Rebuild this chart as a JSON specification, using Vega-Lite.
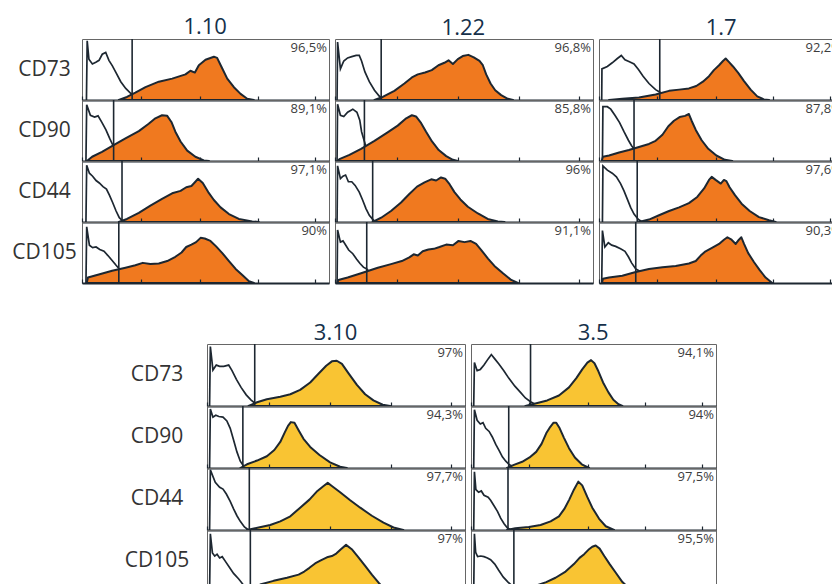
{
  "$schema": "https://vega.github.io/schema/vega-lite/v6.json",
  "padding": {"left": 12, "top": 15, "right": 0, "bottom": 0},
  "config": {
    "font": "Open Sans",
    "view": {"stroke": "#666666", "strokeWidth": 1},
    "title": {"font": "Open Sans", "fontSize": 22, "fontWeight": "normal", "color": "#15304a", "anchor": "middle", "offset": -2, "baseline": "alphabetic"}
  },
  "data": {"values": [
    {"s":"1.10","m":"CD73","k":"i","x":1.8,"y":0},{"s":"1.10","m":"CD73","k":"i","x":2.1,"y":97},{"s":"1.10","m":"CD73","k":"i","x":2.8,"y":67},{"s":"1.10","m":"CD73","k":"i","x":4.2,"y":59},{"s":"1.10","m":"CD73","k":"i","x":5.6,"y":62},{"s":"1.10","m":"CD73","k":"i","x":6.9,"y":65},{"s":"1.10","m":"CD73","k":"i","x":8.2,"y":75},{"s":"1.10","m":"CD73","k":"i","x":9.6,"y":78},{"s":"1.10","m":"CD73","k":"i","x":10.9,"y":65},{"s":"1.10","m":"CD73","k":"i","x":12.3,"y":56},{"s":"1.10","m":"CD73","k":"i","x":13.6,"y":46},{"s":"1.10","m":"CD73","k":"i","x":15.7,"y":30},{"s":"1.10","m":"CD73","k":"i","x":17.7,"y":19},{"s":"1.10","m":"CD73","k":"i","x":19.7,"y":11},{"s":"1.10","m":"CD73","k":"i","x":23,"y":3},{"s":"1.10","m":"CD73","k":"i","x":27,"y":0},
    {"s":"1.10","m":"CD73","k":"p","x":14.9,"y":0},{"s":"1.10","m":"CD73","k":"p","x":18.2,"y":5},{"s":"1.10","m":"CD73","k":"p","x":21.6,"y":12},{"s":"1.10","m":"CD73","k":"p","x":25.7,"y":21},{"s":"1.10","m":"CD73","k":"p","x":31.1,"y":30},{"s":"1.10","m":"CD73","k":"p","x":36.5,"y":35},{"s":"1.10","m":"CD73","k":"p","x":41.9,"y":42},{"s":"1.10","m":"CD73","k":"p","x":43.9,"y":48},{"s":"1.10","m":"CD73","k":"p","x":45.7,"y":45},{"s":"1.10","m":"CD73","k":"p","x":47.3,"y":57},{"s":"1.10","m":"CD73","k":"p","x":50,"y":66},{"s":"1.10","m":"CD73","k":"p","x":53.4,"y":71},{"s":"1.10","m":"CD73","k":"p","x":54.7,"y":69},{"s":"1.10","m":"CD73","k":"p","x":56.5,"y":54},{"s":"1.10","m":"CD73","k":"p","x":58.8,"y":35},{"s":"1.10","m":"CD73","k":"p","x":61.5,"y":21},{"s":"1.10","m":"CD73","k":"p","x":64.2,"y":10},{"s":"1.10","m":"CD73","k":"p","x":66.9,"y":2},{"s":"1.10","m":"CD73","k":"p","x":69.6,"y":0},
    {"s":"1.10","m":"CD73","k":"g","x":20.3},{"s":"1.10","m":"CD73","k":"t","t":"96,5%"},

    {"s":"1.10","m":"CD90","k":"i","x":1.6,"y":0},{"s":"1.10","m":"CD90","k":"i","x":1.9,"y":92},{"s":"1.10","m":"CD90","k":"i","x":3.4,"y":75},{"s":"1.10","m":"CD90","k":"i","x":5.1,"y":72},{"s":"1.10","m":"CD90","k":"i","x":6.5,"y":74},{"s":"1.10","m":"CD90","k":"i","x":8.1,"y":63},{"s":"1.10","m":"CD90","k":"i","x":9.7,"y":51},{"s":"1.10","m":"CD90","k":"i","x":11.2,"y":37},{"s":"1.10","m":"CD90","k":"i","x":12.6,"y":25},{"s":"1.10","m":"CD90","k":"i","x":14.2,"y":10},{"s":"1.10","m":"CD90","k":"i","x":16.2,"y":2},{"s":"1.10","m":"CD90","k":"i","x":20,"y":0},
    {"s":"1.10","m":"CD90","k":"p","x":2,"y":0},{"s":"1.10","m":"CD90","k":"p","x":4.1,"y":7},{"s":"1.10","m":"CD90","k":"p","x":8.1,"y":15},{"s":"1.10","m":"CD90","k":"p","x":12.8,"y":26},{"s":"1.10","m":"CD90","k":"p","x":17.6,"y":37},{"s":"1.10","m":"CD90","k":"p","x":23,"y":49},{"s":"1.10","m":"CD90","k":"p","x":27,"y":61},{"s":"1.10","m":"CD90","k":"p","x":29.7,"y":70},{"s":"1.10","m":"CD90","k":"p","x":32.4,"y":75},{"s":"1.10","m":"CD90","k":"p","x":34.5,"y":74},{"s":"1.10","m":"CD90","k":"p","x":36.2,"y":64},{"s":"1.10","m":"CD90","k":"p","x":37.8,"y":48},{"s":"1.10","m":"CD90","k":"p","x":39.9,"y":32},{"s":"1.10","m":"CD90","k":"p","x":42.6,"y":17},{"s":"1.10","m":"CD90","k":"p","x":45.9,"y":7},{"s":"1.10","m":"CD90","k":"p","x":49.3,"y":1},{"s":"1.10","m":"CD90","k":"p","x":51.4,"y":0},
    {"s":"1.10","m":"CD90","k":"g","x":12.8},{"s":"1.10","m":"CD90","k":"t","t":"89,1%"},

    {"s":"1.10","m":"CD44","k":"i","x":1.6,"y":0},{"s":"1.10","m":"CD44","k":"i","x":1.9,"y":93},{"s":"1.10","m":"CD44","k":"i","x":3,"y":80},{"s":"1.10","m":"CD44","k":"i","x":4.3,"y":75},{"s":"1.10","m":"CD44","k":"i","x":5.7,"y":68},{"s":"1.10","m":"CD44","k":"i","x":7,"y":64},{"s":"1.10","m":"CD44","k":"i","x":8.5,"y":58},{"s":"1.10","m":"CD44","k":"i","x":9.9,"y":54},{"s":"1.10","m":"CD44","k":"i","x":11.1,"y":44},{"s":"1.10","m":"CD44","k":"i","x":12.4,"y":32},{"s":"1.10","m":"CD44","k":"i","x":13.8,"y":18},{"s":"1.10","m":"CD44","k":"i","x":15.1,"y":7},{"s":"1.10","m":"CD44","k":"i","x":16.9,"y":0},
    {"s":"1.10","m":"CD44","k":"p","x":14.9,"y":0},{"s":"1.10","m":"CD44","k":"p","x":18.2,"y":5},{"s":"1.10","m":"CD44","k":"p","x":23,"y":15},{"s":"1.10","m":"CD44","k":"p","x":27.7,"y":27},{"s":"1.10","m":"CD44","k":"p","x":32.4,"y":38},{"s":"1.10","m":"CD44","k":"p","x":36.5,"y":47},{"s":"1.10","m":"CD44","k":"p","x":39.9,"y":51},{"s":"1.10","m":"CD44","k":"p","x":42.2,"y":57},{"s":"1.10","m":"CD44","k":"p","x":44.3,"y":59},{"s":"1.10","m":"CD44","k":"p","x":45.9,"y":66},{"s":"1.10","m":"CD44","k":"p","x":47,"y":71},{"s":"1.10","m":"CD44","k":"p","x":48.9,"y":64},{"s":"1.10","m":"CD44","k":"p","x":51.1,"y":49},{"s":"1.10","m":"CD44","k":"p","x":53.4,"y":36},{"s":"1.10","m":"CD44","k":"p","x":56.1,"y":24},{"s":"1.10","m":"CD44","k":"p","x":59.5,"y":13},{"s":"1.10","m":"CD44","k":"p","x":63.5,"y":5},{"s":"1.10","m":"CD44","k":"p","x":68.9,"y":1},{"s":"1.10","m":"CD44","k":"p","x":71.6,"y":0},
    {"s":"1.10","m":"CD44","k":"g","x":16.2},{"s":"1.10","m":"CD44","k":"t","t":"97,1%"},

    {"s":"1.10","m":"CD105","k":"i","x":1.6,"y":0},{"s":"1.10","m":"CD105","k":"i","x":1.9,"y":92},{"s":"1.10","m":"CD105","k":"i","x":3,"y":62},{"s":"1.10","m":"CD105","k":"i","x":4.3,"y":58},{"s":"1.10","m":"CD105","k":"i","x":5.7,"y":59},{"s":"1.10","m":"CD105","k":"i","x":7.2,"y":55},{"s":"1.10","m":"CD105","k":"i","x":8.9,"y":52},{"s":"1.10","m":"CD105","k":"i","x":10.5,"y":45},{"s":"1.10","m":"CD105","k":"i","x":12.2,"y":37},{"s":"1.10","m":"CD105","k":"i","x":13.8,"y":29},{"s":"1.10","m":"CD105","k":"i","x":15.1,"y":23},{"s":"1.10","m":"CD105","k":"i","x":17.6,"y":13},{"s":"1.10","m":"CD105","k":"i","x":20.3,"y":2},{"s":"1.10","m":"CD105","k":"i","x":21.6,"y":0},
    {"s":"1.10","m":"CD105","k":"p","x":1.9,"y":0},{"s":"1.10","m":"CD105","k":"p","x":2.4,"y":9},{"s":"1.10","m":"CD105","k":"p","x":6.8,"y":14},{"s":"1.10","m":"CD105","k":"p","x":12.2,"y":20},{"s":"1.10","m":"CD105","k":"p","x":17.6,"y":25},{"s":"1.10","m":"CD105","k":"p","x":21.6,"y":29},{"s":"1.10","m":"CD105","k":"p","x":24.6,"y":33},{"s":"1.10","m":"CD105","k":"p","x":27.7,"y":31},{"s":"1.10","m":"CD105","k":"p","x":31.1,"y":32},{"s":"1.10","m":"CD105","k":"p","x":34.5,"y":36},{"s":"1.10","m":"CD105","k":"p","x":37.8,"y":43},{"s":"1.10","m":"CD105","k":"p","x":40.3,"y":50},{"s":"1.10","m":"CD105","k":"p","x":42.2,"y":59},{"s":"1.10","m":"CD105","k":"p","x":44.3,"y":63},{"s":"1.10","m":"CD105","k":"p","x":46.2,"y":67},{"s":"1.10","m":"CD105","k":"p","x":48,"y":74},{"s":"1.10","m":"CD105","k":"p","x":49.7,"y":73},{"s":"1.10","m":"CD105","k":"p","x":52,"y":69},{"s":"1.10","m":"CD105","k":"p","x":54.3,"y":60},{"s":"1.10","m":"CD105","k":"p","x":56.8,"y":49},{"s":"1.10","m":"CD105","k":"p","x":59.5,"y":36},{"s":"1.10","m":"CD105","k":"p","x":62.2,"y":23},{"s":"1.10","m":"CD105","k":"p","x":64.9,"y":13},{"s":"1.10","m":"CD105","k":"p","x":67.6,"y":3},{"s":"1.10","m":"CD105","k":"p","x":69.6,"y":0},
    {"s":"1.10","m":"CD105","k":"g","x":14.9},{"s":"1.10","m":"CD105","k":"t","t":"90%"},

    {"s":"1.22","m":"CD73","k":"i","x":0.8,"y":0},{"s":"1.22","m":"CD73","k":"i","x":1,"y":95},{"s":"1.22","m":"CD73","k":"i","x":2.1,"y":51},{"s":"1.22","m":"CD73","k":"i","x":3.4,"y":64},{"s":"1.22","m":"CD73","k":"i","x":4.9,"y":69},{"s":"1.22","m":"CD73","k":"i","x":6.5,"y":71},{"s":"1.22","m":"CD73","k":"i","x":8.2,"y":73},{"s":"1.22","m":"CD73","k":"i","x":9.4,"y":73},{"s":"1.22","m":"CD73","k":"i","x":10.3,"y":64},{"s":"1.22","m":"CD73","k":"i","x":11.6,"y":46},{"s":"1.22","m":"CD73","k":"i","x":13.3,"y":30},{"s":"1.22","m":"CD73","k":"i","x":15.3,"y":16},{"s":"1.22","m":"CD73","k":"i","x":17.2,"y":6},{"s":"1.22","m":"CD73","k":"i","x":19.1,"y":1},{"s":"1.22","m":"CD73","k":"i","x":21.1,"y":0},
    {"s":"1.22","m":"CD73","k":"p","x":15.3,"y":0},{"s":"1.22","m":"CD73","k":"p","x":18.5,"y":5},{"s":"1.22","m":"CD73","k":"p","x":23,"y":15},{"s":"1.22","m":"CD73","k":"p","x":26.9,"y":27},{"s":"1.22","m":"CD73","k":"p","x":29.8,"y":37},{"s":"1.22","m":"CD73","k":"p","x":32.1,"y":42},{"s":"1.22","m":"CD73","k":"p","x":34.9,"y":45},{"s":"1.22","m":"CD73","k":"p","x":37.5,"y":49},{"s":"1.22","m":"CD73","k":"p","x":40.1,"y":57},{"s":"1.22","m":"CD73","k":"p","x":42.4,"y":61},{"s":"1.22","m":"CD73","k":"p","x":44,"y":65},{"s":"1.22","m":"CD73","k":"p","x":45.7,"y":59},{"s":"1.22","m":"CD73","k":"p","x":47.6,"y":67},{"s":"1.22","m":"CD73","k":"p","x":49.5,"y":72},{"s":"1.22","m":"CD73","k":"p","x":51.7,"y":74},{"s":"1.22","m":"CD73","k":"p","x":53.8,"y":70},{"s":"1.22","m":"CD73","k":"p","x":56,"y":64},{"s":"1.22","m":"CD73","k":"p","x":57.3,"y":57},{"s":"1.22","m":"CD73","k":"p","x":58.6,"y":42},{"s":"1.22","m":"CD73","k":"p","x":60.3,"y":27},{"s":"1.22","m":"CD73","k":"p","x":62.1,"y":16},{"s":"1.22","m":"CD73","k":"p","x":64.4,"y":8},{"s":"1.22","m":"CD73","k":"p","x":67,"y":2},{"s":"1.22","m":"CD73","k":"p","x":69,"y":0},
    {"s":"1.22","m":"CD73","k":"g","x":17.9},{"s":"1.22","m":"CD73","k":"t","t":"96,8%"},

    {"s":"1.22","m":"CD90","k":"i","x":0.8,"y":0},{"s":"1.22","m":"CD90","k":"i","x":1,"y":93},{"s":"1.22","m":"CD90","k":"i","x":2.1,"y":75},{"s":"1.22","m":"CD90","k":"i","x":3.4,"y":73},{"s":"1.22","m":"CD90","k":"i","x":4.9,"y":80},{"s":"1.22","m":"CD90","k":"i","x":6.9,"y":85},{"s":"1.22","m":"CD90","k":"i","x":8.5,"y":80},{"s":"1.22","m":"CD90","k":"i","x":9.6,"y":67},{"s":"1.22","m":"CD90","k":"i","x":10.3,"y":48},{"s":"1.22","m":"CD90","k":"i","x":11.4,"y":32},{"s":"1.22","m":"CD90","k":"i","x":12.4,"y":17},{"s":"1.22","m":"CD90","k":"i","x":13.7,"y":6},{"s":"1.22","m":"CD90","k":"i","x":15.3,"y":1},{"s":"1.22","m":"CD90","k":"i","x":17.2,"y":0},
    {"s":"1.22","m":"CD90","k":"p","x":0.9,"y":0},{"s":"1.22","m":"CD90","k":"p","x":1.7,"y":3},{"s":"1.22","m":"CD90","k":"p","x":5.6,"y":10},{"s":"1.22","m":"CD90","k":"p","x":10.1,"y":20},{"s":"1.22","m":"CD90","k":"p","x":15.3,"y":33},{"s":"1.22","m":"CD90","k":"p","x":20.4,"y":47},{"s":"1.22","m":"CD90","k":"p","x":24.3,"y":58},{"s":"1.22","m":"CD90","k":"p","x":27.6,"y":70},{"s":"1.22","m":"CD90","k":"p","x":29.8,"y":75},{"s":"1.22","m":"CD90","k":"p","x":31.4,"y":73},{"s":"1.22","m":"CD90","k":"p","x":33.4,"y":62},{"s":"1.22","m":"CD90","k":"p","x":35.3,"y":48},{"s":"1.22","m":"CD90","k":"p","x":37.6,"y":32},{"s":"1.22","m":"CD90","k":"p","x":40.2,"y":18},{"s":"1.22","m":"CD90","k":"p","x":43.1,"y":8},{"s":"1.22","m":"CD90","k":"p","x":45.7,"y":2},{"s":"1.22","m":"CD90","k":"p","x":47.6,"y":0},
    {"s":"1.22","m":"CD90","k":"g","x":11.4},{"s":"1.22","m":"CD90","k":"t","t":"85,8%"},

    {"s":"1.22","m":"CD44","k":"i","x":0.8,"y":0},{"s":"1.22","m":"CD44","k":"i","x":1,"y":92},{"s":"1.22","m":"CD44","k":"i","x":2.1,"y":71},{"s":"1.22","m":"CD44","k":"i","x":3.1,"y":75},{"s":"1.22","m":"CD44","k":"i","x":4.1,"y":77},{"s":"1.22","m":"CD44","k":"i","x":5.2,"y":66},{"s":"1.22","m":"CD44","k":"i","x":6.5,"y":66},{"s":"1.22","m":"CD44","k":"i","x":7.8,"y":60},{"s":"1.22","m":"CD44","k":"i","x":9.4,"y":49},{"s":"1.22","m":"CD44","k":"i","x":10.7,"y":36},{"s":"1.22","m":"CD44","k":"i","x":12,"y":22},{"s":"1.22","m":"CD44","k":"i","x":13.3,"y":11},{"s":"1.22","m":"CD44","k":"i","x":14.9,"y":3},{"s":"1.22","m":"CD44","k":"i","x":16.6,"y":0},
    {"s":"1.22","m":"CD44","k":"p","x":14.6,"y":0},{"s":"1.22","m":"CD44","k":"p","x":17.9,"y":7},{"s":"1.22","m":"CD44","k":"p","x":21.7,"y":18},{"s":"1.22","m":"CD44","k":"p","x":25.6,"y":32},{"s":"1.22","m":"CD44","k":"p","x":28.8,"y":46},{"s":"1.22","m":"CD44","k":"p","x":31.8,"y":58},{"s":"1.22","m":"CD44","k":"p","x":34.7,"y":65},{"s":"1.22","m":"CD44","k":"p","x":37.3,"y":70},{"s":"1.22","m":"CD44","k":"p","x":39.2,"y":68},{"s":"1.22","m":"CD44","k":"p","x":41.1,"y":73},{"s":"1.22","m":"CD44","k":"p","x":42.7,"y":71},{"s":"1.22","m":"CD44","k":"p","x":44.4,"y":62},{"s":"1.22","m":"CD44","k":"p","x":46.3,"y":49},{"s":"1.22","m":"CD44","k":"p","x":48.6,"y":37},{"s":"1.22","m":"CD44","k":"p","x":51.5,"y":25},{"s":"1.22","m":"CD44","k":"p","x":55.4,"y":14},{"s":"1.22","m":"CD44","k":"p","x":59.2,"y":5},{"s":"1.22","m":"CD44","k":"p","x":63.1,"y":1},{"s":"1.22","m":"CD44","k":"p","x":65.7,"y":0},
    {"s":"1.22","m":"CD44","k":"g","x":14.6},{"s":"1.22","m":"CD44","k":"t","t":"96%"},

    {"s":"1.22","m":"CD105","k":"i","x":0.8,"y":0},{"s":"1.22","m":"CD105","k":"i","x":1,"y":87},{"s":"1.22","m":"CD105","k":"i","x":2.1,"y":67},{"s":"1.22","m":"CD105","k":"i","x":3.1,"y":69},{"s":"1.22","m":"CD105","k":"i","x":4.3,"y":61},{"s":"1.22","m":"CD105","k":"i","x":5.3,"y":54},{"s":"1.22","m":"CD105","k":"i","x":6.9,"y":48},{"s":"1.22","m":"CD105","k":"i","x":8.4,"y":39},{"s":"1.22","m":"CD105","k":"i","x":9.7,"y":32},{"s":"1.22","m":"CD105","k":"i","x":11,"y":26},{"s":"1.22","m":"CD105","k":"i","x":12.3,"y":23},{"s":"1.22","m":"CD105","k":"i","x":14,"y":15},{"s":"1.22","m":"CD105","k":"i","x":15.9,"y":5},{"s":"1.22","m":"CD105","k":"i","x":17.9,"y":0},
    {"s":"1.22","m":"CD105","k":"p","x":0.9,"y":0},{"s":"1.22","m":"CD105","k":"p","x":1.3,"y":5},{"s":"1.22","m":"CD105","k":"p","x":4.9,"y":9},{"s":"1.22","m":"CD105","k":"p","x":10.1,"y":16},{"s":"1.22","m":"CD105","k":"p","x":16.6,"y":25},{"s":"1.22","m":"CD105","k":"p","x":21.7,"y":31},{"s":"1.22","m":"CD105","k":"p","x":25.9,"y":36},{"s":"1.22","m":"CD105","k":"p","x":28.8,"y":42},{"s":"1.22","m":"CD105","k":"p","x":30.5,"y":47},{"s":"1.22","m":"CD105","k":"p","x":32.1,"y":45},{"s":"1.22","m":"CD105","k":"p","x":34,"y":52},{"s":"1.22","m":"CD105","k":"p","x":36.2,"y":55},{"s":"1.22","m":"CD105","k":"p","x":38.3,"y":56},{"s":"1.22","m":"CD105","k":"p","x":40.5,"y":59},{"s":"1.22","m":"CD105","k":"p","x":43.1,"y":63},{"s":"1.22","m":"CD105","k":"p","x":45.7,"y":62},{"s":"1.22","m":"CD105","k":"p","x":47.9,"y":69},{"s":"1.22","m":"CD105","k":"p","x":50.2,"y":67},{"s":"1.22","m":"CD105","k":"p","x":52.5,"y":69},{"s":"1.22","m":"CD105","k":"p","x":54.7,"y":64},{"s":"1.22","m":"CD105","k":"p","x":56.7,"y":54},{"s":"1.22","m":"CD105","k":"p","x":59.3,"y":40},{"s":"1.22","m":"CD105","k":"p","x":61.8,"y":28},{"s":"1.22","m":"CD105","k":"p","x":65.1,"y":16},{"s":"1.22","m":"CD105","k":"p","x":68.3,"y":5},{"s":"1.22","m":"CD105","k":"p","x":70.9,"y":0},
    {"s":"1.22","m":"CD105","k":"g","x":12.3},{"s":"1.22","m":"CD105","k":"t","t":"91,1%"},

    {"s":"1.7","m":"CD73","k":"i","x":1.1,"y":0},{"s":"1.7","m":"CD73","k":"i","x":1.2,"y":51},{"s":"1.7","m":"CD73","k":"i","x":3.4,"y":55},{"s":"1.7","m":"CD73","k":"i","x":5.4,"y":61},{"s":"1.7","m":"CD73","k":"i","x":7.5,"y":68},{"s":"1.7","m":"CD73","k":"i","x":9.1,"y":73},{"s":"1.7","m":"CD73","k":"i","x":10.6,"y":66},{"s":"1.7","m":"CD73","k":"i","x":12.2,"y":63},{"s":"1.7","m":"CD73","k":"i","x":14.3,"y":59},{"s":"1.7","m":"CD73","k":"i","x":16.1,"y":50},{"s":"1.7","m":"CD73","k":"i","x":18,"y":39},{"s":"1.7","m":"CD73","k":"i","x":20.4,"y":27},{"s":"1.7","m":"CD73","k":"i","x":23.1,"y":17},{"s":"1.7","m":"CD73","k":"i","x":25.2,"y":12},{"s":"1.7","m":"CD73","k":"i","x":27.2,"y":5},{"s":"1.7","m":"CD73","k":"i","x":29.9,"y":1},{"s":"1.7","m":"CD73","k":"i","x":32,"y":0},
    {"s":"1.7","m":"CD73","k":"p","x":4.1,"y":0},{"s":"1.7","m":"CD73","k":"p","x":9.5,"y":2},{"s":"1.7","m":"CD73","k":"p","x":16.3,"y":4},{"s":"1.7","m":"CD73","k":"p","x":23.1,"y":9},{"s":"1.7","m":"CD73","k":"p","x":28.6,"y":15},{"s":"1.7","m":"CD73","k":"p","x":32.7,"y":17},{"s":"1.7","m":"CD73","k":"p","x":36.7,"y":19},{"s":"1.7","m":"CD73","k":"p","x":39.7,"y":23},{"s":"1.7","m":"CD73","k":"p","x":42.4,"y":30},{"s":"1.7","m":"CD73","k":"p","x":44.9,"y":39},{"s":"1.7","m":"CD73","k":"p","x":46.9,"y":49},{"s":"1.7","m":"CD73","k":"p","x":49,"y":57},{"s":"1.7","m":"CD73","k":"p","x":50.6,"y":64},{"s":"1.7","m":"CD73","k":"p","x":51.7,"y":68},{"s":"1.7","m":"CD73","k":"p","x":53.1,"y":62},{"s":"1.7","m":"CD73","k":"p","x":54.7,"y":55},{"s":"1.7","m":"CD73","k":"p","x":56.9,"y":44},{"s":"1.7","m":"CD73","k":"p","x":59.2,"y":31},{"s":"1.7","m":"CD73","k":"p","x":61.9,"y":17},{"s":"1.7","m":"CD73","k":"p","x":64.6,"y":6},{"s":"1.7","m":"CD73","k":"p","x":67.3,"y":1},{"s":"1.7","m":"CD73","k":"p","x":69.4,"y":0},
    {"s":"1.7","m":"CD73","k":"g","x":24.8},{"s":"1.7","m":"CD73","k":"t","t":"92,2%"},

    {"s":"1.7","m":"CD90","k":"i","x":1.4,"y":0},{"s":"1.7","m":"CD90","k":"i","x":1.6,"y":89},{"s":"1.7","m":"CD90","k":"i","x":3.4,"y":89},{"s":"1.7","m":"CD90","k":"i","x":4.8,"y":85},{"s":"1.7","m":"CD90","k":"i","x":6.5,"y":75},{"s":"1.7","m":"CD90","k":"i","x":8.4,"y":63},{"s":"1.7","m":"CD90","k":"i","x":10.2,"y":48},{"s":"1.7","m":"CD90","k":"i","x":12,"y":34},{"s":"1.7","m":"CD90","k":"i","x":13.3,"y":25},{"s":"1.7","m":"CD90","k":"i","x":14.7,"y":18},{"s":"1.7","m":"CD90","k":"i","x":16.3,"y":10},{"s":"1.7","m":"CD90","k":"i","x":18.4,"y":3},{"s":"1.7","m":"CD90","k":"i","x":20.4,"y":0},
    {"s":"1.7","m":"CD90","k":"p","x":1.1,"y":0},{"s":"1.7","m":"CD90","k":"p","x":1.6,"y":7},{"s":"1.7","m":"CD90","k":"p","x":4.1,"y":9},{"s":"1.7","m":"CD90","k":"p","x":8.2,"y":14},{"s":"1.7","m":"CD90","k":"p","x":12.2,"y":18},{"s":"1.7","m":"CD90","k":"p","x":16.3,"y":23},{"s":"1.7","m":"CD90","k":"p","x":20.4,"y":28},{"s":"1.7","m":"CD90","k":"p","x":23.1,"y":33},{"s":"1.7","m":"CD90","k":"p","x":25.9,"y":43},{"s":"1.7","m":"CD90","k":"p","x":28.3,"y":57},{"s":"1.7","m":"CD90","k":"p","x":30.6,"y":66},{"s":"1.7","m":"CD90","k":"p","x":32.9,"y":72},{"s":"1.7","m":"CD90","k":"p","x":35.1,"y":74},{"s":"1.7","m":"CD90","k":"p","x":36.7,"y":77},{"s":"1.7","m":"CD90","k":"p","x":37.8,"y":66},{"s":"1.7","m":"CD90","k":"p","x":39.5,"y":51},{"s":"1.7","m":"CD90","k":"p","x":41.9,"y":34},{"s":"1.7","m":"CD90","k":"p","x":44.6,"y":20},{"s":"1.7","m":"CD90","k":"p","x":47.9,"y":9},{"s":"1.7","m":"CD90","k":"p","x":51.4,"y":2},{"s":"1.7","m":"CD90","k":"p","x":54.4,"y":0},
    {"s":"1.7","m":"CD90","k":"g","x":14.3},{"s":"1.7","m":"CD90","k":"t","t":"87,8%"},

    {"s":"1.7","m":"CD44","k":"i","x":1.4,"y":0},{"s":"1.7","m":"CD44","k":"i","x":1.6,"y":92},{"s":"1.7","m":"CD44","k":"i","x":3.4,"y":85},{"s":"1.7","m":"CD44","k":"i","x":5.4,"y":80},{"s":"1.7","m":"CD44","k":"i","x":7.1,"y":74},{"s":"1.7","m":"CD44","k":"i","x":8.8,"y":63},{"s":"1.7","m":"CD44","k":"i","x":10.2,"y":51},{"s":"1.7","m":"CD44","k":"i","x":11.6,"y":37},{"s":"1.7","m":"CD44","k":"i","x":12.9,"y":24},{"s":"1.7","m":"CD44","k":"i","x":14.3,"y":13},{"s":"1.7","m":"CD44","k":"i","x":16.1,"y":4},{"s":"1.7","m":"CD44","k":"i","x":17.7,"y":0},
    {"s":"1.7","m":"CD44","k":"p","x":16.3,"y":0},{"s":"1.7","m":"CD44","k":"p","x":20.4,"y":4},{"s":"1.7","m":"CD44","k":"p","x":24.5,"y":11},{"s":"1.7","m":"CD44","k":"p","x":28.6,"y":18},{"s":"1.7","m":"CD44","k":"p","x":32.7,"y":24},{"s":"1.7","m":"CD44","k":"p","x":36.7,"y":31},{"s":"1.7","m":"CD44","k":"p","x":40.1,"y":41},{"s":"1.7","m":"CD44","k":"p","x":42.9,"y":55},{"s":"1.7","m":"CD44","k":"p","x":44.9,"y":69},{"s":"1.7","m":"CD44","k":"p","x":46,"y":74},{"s":"1.7","m":"CD44","k":"p","x":47.6,"y":69},{"s":"1.7","m":"CD44","k":"p","x":49.7,"y":63},{"s":"1.7","m":"CD44","k":"p","x":51,"y":69},{"s":"1.7","m":"CD44","k":"p","x":52,"y":67},{"s":"1.7","m":"CD44","k":"p","x":53.3,"y":57},{"s":"1.7","m":"CD44","k":"p","x":55.5,"y":44},{"s":"1.7","m":"CD44","k":"p","x":58.2,"y":30},{"s":"1.7","m":"CD44","k":"p","x":61.5,"y":18},{"s":"1.7","m":"CD44","k":"p","x":65.3,"y":8},{"s":"1.7","m":"CD44","k":"p","x":69.4,"y":3},{"s":"1.7","m":"CD44","k":"p","x":72.1,"y":0},
    {"s":"1.7","m":"CD44","k":"g","x":15.6},{"s":"1.7","m":"CD44","k":"t","t":"97,6%"},

    {"s":"1.7","m":"CD105","k":"i","x":1.1,"y":0},{"s":"1.7","m":"CD105","k":"i","x":1.4,"y":86},{"s":"1.7","m":"CD105","k":"i","x":2.4,"y":59},{"s":"1.7","m":"CD105","k":"i","x":3.8,"y":66},{"s":"1.7","m":"CD105","k":"i","x":5.2,"y":62},{"s":"1.7","m":"CD105","k":"i","x":6.8,"y":60},{"s":"1.7","m":"CD105","k":"i","x":8.8,"y":56},{"s":"1.7","m":"CD105","k":"i","x":10.6,"y":52},{"s":"1.7","m":"CD105","k":"i","x":12,"y":43},{"s":"1.7","m":"CD105","k":"i","x":13.3,"y":33},{"s":"1.7","m":"CD105","k":"i","x":15,"y":23},{"s":"1.7","m":"CD105","k":"i","x":16.3,"y":20},{"s":"1.7","m":"CD105","k":"i","x":19,"y":10},{"s":"1.7","m":"CD105","k":"i","x":21.7,"y":0},
    {"s":"1.7","m":"CD105","k":"p","x":1.2,"y":0},{"s":"1.7","m":"CD105","k":"p","x":1.6,"y":7},{"s":"1.7","m":"CD105","k":"p","x":4.1,"y":9},{"s":"1.7","m":"CD105","k":"p","x":9.5,"y":12},{"s":"1.7","m":"CD105","k":"p","x":15,"y":18},{"s":"1.7","m":"CD105","k":"p","x":20.4,"y":23},{"s":"1.7","m":"CD105","k":"p","x":25.9,"y":26},{"s":"1.7","m":"CD105","k":"p","x":31.3,"y":28},{"s":"1.7","m":"CD105","k":"p","x":36.7,"y":32},{"s":"1.7","m":"CD105","k":"p","x":39.5,"y":36},{"s":"1.7","m":"CD105","k":"p","x":41.5,"y":45},{"s":"1.7","m":"CD105","k":"p","x":43.5,"y":52},{"s":"1.7","m":"CD105","k":"p","x":46.3,"y":58},{"s":"1.7","m":"CD105","k":"p","x":49,"y":64},{"s":"1.7","m":"CD105","k":"p","x":51,"y":71},{"s":"1.7","m":"CD105","k":"p","x":52.4,"y":75},{"s":"1.7","m":"CD105","k":"p","x":54.1,"y":71},{"s":"1.7","m":"CD105","k":"p","x":55.8,"y":64},{"s":"1.7","m":"CD105","k":"p","x":57.1,"y":71},{"s":"1.7","m":"CD105","k":"p","x":58.1,"y":75},{"s":"1.7","m":"CD105","k":"p","x":59.2,"y":64},{"s":"1.7","m":"CD105","k":"p","x":60.9,"y":49},{"s":"1.7","m":"CD105","k":"p","x":63.3,"y":34},{"s":"1.7","m":"CD105","k":"p","x":65.6,"y":21},{"s":"1.7","m":"CD105","k":"p","x":68,"y":9},{"s":"1.7","m":"CD105","k":"p","x":70.7,"y":0},
    {"s":"1.7","m":"CD105","k":"g","x":15},{"s":"1.7","m":"CD105","k":"t","t":"90,3%"},

    {"s":"3.10","m":"CD73","k":"i","x":1,"y":0},{"s":"3.10","m":"CD73","k":"i","x":1.3,"y":96},{"s":"3.10","m":"CD73","k":"i","x":2.3,"y":58},{"s":"3.10","m":"CD73","k":"i","x":3.6,"y":66},{"s":"3.10","m":"CD73","k":"i","x":4.9,"y":64},{"s":"3.10","m":"CD73","k":"i","x":6.5,"y":64},{"s":"3.10","m":"CD73","k":"i","x":8.4,"y":66},{"s":"3.10","m":"CD73","k":"i","x":9.7,"y":57},{"s":"3.10","m":"CD73","k":"i","x":11.4,"y":43},{"s":"3.10","m":"CD73","k":"i","x":13.2,"y":30},{"s":"3.10","m":"CD73","k":"i","x":15.2,"y":18},{"s":"3.10","m":"CD73","k":"i","x":17,"y":10},{"s":"3.10","m":"CD73","k":"i","x":18.7,"y":4},{"s":"3.10","m":"CD73","k":"i","x":21.3,"y":0},
    {"s":"3.10","m":"CD73","k":"p","x":16.1,"y":0},{"s":"3.10","m":"CD73","k":"p","x":19.4,"y":6},{"s":"3.10","m":"CD73","k":"p","x":23.2,"y":11},{"s":"3.10","m":"CD73","k":"p","x":28.4,"y":15},{"s":"3.10","m":"CD73","k":"p","x":32.3,"y":19},{"s":"3.10","m":"CD73","k":"p","x":36.1,"y":26},{"s":"3.10","m":"CD73","k":"p","x":40,"y":38},{"s":"3.10","m":"CD73","k":"p","x":43.2,"y":52},{"s":"3.10","m":"CD73","k":"p","x":46.2,"y":65},{"s":"3.10","m":"CD73","k":"p","x":48.4,"y":72},{"s":"3.10","m":"CD73","k":"p","x":50.3,"y":73},{"s":"3.10","m":"CD73","k":"p","x":52.3,"y":68},{"s":"3.10","m":"CD73","k":"p","x":54.8,"y":53},{"s":"3.10","m":"CD73","k":"p","x":58.1,"y":34},{"s":"3.10","m":"CD73","k":"p","x":61.3,"y":19},{"s":"3.10","m":"CD73","k":"p","x":64.5,"y":9},{"s":"3.10","m":"CD73","k":"p","x":68.1,"y":2},{"s":"3.10","m":"CD73","k":"p","x":71,"y":0},
    {"s":"3.10","m":"CD73","k":"g","x":18.5},{"s":"3.10","m":"CD73","k":"t","t":"97%"},

    {"s":"3.10","m":"CD90","k":"i","x":1,"y":0},{"s":"3.10","m":"CD90","k":"i","x":1.3,"y":95},{"s":"3.10","m":"CD90","k":"i","x":2.3,"y":82},{"s":"3.10","m":"CD90","k":"i","x":3.4,"y":85},{"s":"3.10","m":"CD90","k":"i","x":4.6,"y":83},{"s":"3.10","m":"CD90","k":"i","x":6.2,"y":82},{"s":"3.10","m":"CD90","k":"i","x":7.7,"y":76},{"s":"3.10","m":"CD90","k":"i","x":9,"y":64},{"s":"3.10","m":"CD90","k":"i","x":10.3,"y":45},{"s":"3.10","m":"CD90","k":"i","x":11.6,"y":26},{"s":"3.10","m":"CD90","k":"i","x":12.9,"y":11},{"s":"3.10","m":"CD90","k":"i","x":14.2,"y":3},{"s":"3.10","m":"CD90","k":"i","x":15.5,"y":0},
    {"s":"3.10","m":"CD90","k":"p","x":12.9,"y":0},{"s":"3.10","m":"CD90","k":"p","x":15.5,"y":6},{"s":"3.10","m":"CD90","k":"p","x":19.4,"y":12},{"s":"3.10","m":"CD90","k":"p","x":23.2,"y":19},{"s":"3.10","m":"CD90","k":"p","x":26.1,"y":29},{"s":"3.10","m":"CD90","k":"p","x":28.4,"y":42},{"s":"3.10","m":"CD90","k":"p","x":30.1,"y":57},{"s":"3.10","m":"CD90","k":"p","x":31.4,"y":68},{"s":"3.10","m":"CD90","k":"p","x":32.5,"y":74},{"s":"3.10","m":"CD90","k":"p","x":33.9,"y":73},{"s":"3.10","m":"CD90","k":"p","x":35.5,"y":61},{"s":"3.10","m":"CD90","k":"p","x":37.4,"y":47},{"s":"3.10","m":"CD90","k":"p","x":40,"y":34},{"s":"3.10","m":"CD90","k":"p","x":43.6,"y":21},{"s":"3.10","m":"CD90","k":"p","x":47.7,"y":9},{"s":"3.10","m":"CD90","k":"p","x":51.6,"y":2},{"s":"3.10","m":"CD90","k":"p","x":54.2,"y":0},
    {"s":"3.10","m":"CD90","k":"g","x":13.9},{"s":"3.10","m":"CD90","k":"t","t":"94,3%"},

    {"s":"3.10","m":"CD44","k":"i","x":1,"y":0},{"s":"3.10","m":"CD44","k":"i","x":1.3,"y":97},{"s":"3.10","m":"CD44","k":"i","x":3.2,"y":77},{"s":"3.10","m":"CD44","k":"i","x":4.9,"y":69},{"s":"3.10","m":"CD44","k":"i","x":6.2,"y":66},{"s":"3.10","m":"CD44","k":"i","x":7.5,"y":58},{"s":"3.10","m":"CD44","k":"i","x":9,"y":46},{"s":"3.10","m":"CD44","k":"i","x":10.3,"y":34},{"s":"3.10","m":"CD44","k":"i","x":11.6,"y":23},{"s":"3.10","m":"CD44","k":"i","x":12.9,"y":14},{"s":"3.10","m":"CD44","k":"i","x":14.5,"y":5},{"s":"3.10","m":"CD44","k":"i","x":16.1,"y":0},
    {"s":"3.10","m":"CD44","k":"p","x":15.5,"y":0},{"s":"3.10","m":"CD44","k":"p","x":20,"y":4},{"s":"3.10","m":"CD44","k":"p","x":24.5,"y":8},{"s":"3.10","m":"CD44","k":"p","x":28.4,"y":14},{"s":"3.10","m":"CD44","k":"p","x":32.3,"y":22},{"s":"3.10","m":"CD44","k":"p","x":36.1,"y":36},{"s":"3.10","m":"CD44","k":"p","x":39.7,"y":49},{"s":"3.10","m":"CD44","k":"p","x":42.8,"y":63},{"s":"3.10","m":"CD44","k":"p","x":45.2,"y":71},{"s":"3.10","m":"CD44","k":"p","x":46.8,"y":76},{"s":"3.10","m":"CD44","k":"p","x":48.4,"y":71},{"s":"3.10","m":"CD44","k":"p","x":51.6,"y":61},{"s":"3.10","m":"CD44","k":"p","x":55.5,"y":48},{"s":"3.10","m":"CD44","k":"p","x":59.4,"y":36},{"s":"3.10","m":"CD44","k":"p","x":63.9,"y":23},{"s":"3.10","m":"CD44","k":"p","x":68.4,"y":12},{"s":"3.10","m":"CD44","k":"p","x":72.3,"y":4},{"s":"3.10","m":"CD44","k":"p","x":76.1,"y":0},
    {"s":"3.10","m":"CD44","k":"g","x":16.4},{"s":"3.10","m":"CD44","k":"t","t":"97,7%"},

    {"s":"3.10","m":"CD105","k":"i","x":1,"y":0},{"s":"3.10","m":"CD105","k":"i","x":1.3,"y":94},{"s":"3.10","m":"CD105","k":"i","x":2.1,"y":63},{"s":"3.10","m":"CD105","k":"i","x":3,"y":58},{"s":"3.10","m":"CD105","k":"i","x":3.9,"y":61},{"s":"3.10","m":"CD105","k":"i","x":4.9,"y":55},{"s":"3.10","m":"CD105","k":"i","x":5.9,"y":57},{"s":"3.10","m":"CD105","k":"i","x":7.2,"y":49},{"s":"3.10","m":"CD105","k":"i","x":8.8,"y":39},{"s":"3.10","m":"CD105","k":"i","x":10.3,"y":30},{"s":"3.10","m":"CD105","k":"i","x":12.3,"y":21},{"s":"3.10","m":"CD105","k":"i","x":14.2,"y":11},{"s":"3.10","m":"CD105","k":"i","x":16.1,"y":4},{"s":"3.10","m":"CD105","k":"i","x":18.1,"y":0},
    {"s":"3.10","m":"CD105","k":"p","x":15.5,"y":0},{"s":"3.10","m":"CD105","k":"p","x":18.1,"y":8},{"s":"3.10","m":"CD105","k":"p","x":20.6,"y":12},{"s":"3.10","m":"CD105","k":"p","x":25.8,"y":18},{"s":"3.10","m":"CD105","k":"p","x":31,"y":23},{"s":"3.10","m":"CD105","k":"p","x":35.5,"y":28},{"s":"3.10","m":"CD105","k":"p","x":37.7,"y":33},{"s":"3.10","m":"CD105","k":"p","x":39.7,"y":39},{"s":"3.10","m":"CD105","k":"p","x":41.9,"y":46},{"s":"3.10","m":"CD105","k":"p","x":44.1,"y":51},{"s":"3.10","m":"CD105","k":"p","x":46.5,"y":56},{"s":"3.10","m":"CD105","k":"p","x":48.4,"y":58},{"s":"3.10","m":"CD105","k":"p","x":50.1,"y":62},{"s":"3.10","m":"CD105","k":"p","x":51.9,"y":69},{"s":"3.10","m":"CD105","k":"p","x":53.9,"y":76},{"s":"3.10","m":"CD105","k":"p","x":56.1,"y":69},{"s":"3.10","m":"CD105","k":"p","x":58.7,"y":56},{"s":"3.10","m":"CD105","k":"p","x":61.3,"y":42},{"s":"3.10","m":"CD105","k":"p","x":63.9,"y":28},{"s":"3.10","m":"CD105","k":"p","x":66.5,"y":15},{"s":"3.10","m":"CD105","k":"p","x":69,"y":4},{"s":"3.10","m":"CD105","k":"p","x":71,"y":0},
    {"s":"3.10","m":"CD105","k":"g","x":16.8},{"s":"3.10","m":"CD105","k":"t","t":"97%"},

    {"s":"3.5","m":"CD73","k":"i","x":1.1,"y":0},{"s":"3.5","m":"CD73","k":"i","x":1.4,"y":70},{"s":"3.5","m":"CD73","k":"i","x":2.5,"y":57},{"s":"3.5","m":"CD73","k":"i","x":3.8,"y":59},{"s":"3.5","m":"CD73","k":"i","x":5.3,"y":66},{"s":"3.5","m":"CD73","k":"i","x":7,"y":76},{"s":"3.5","m":"CD73","k":"i","x":8.3,"y":83},{"s":"3.5","m":"CD73","k":"i","x":9.7,"y":76},{"s":"3.5","m":"CD73","k":"i","x":11.3,"y":68},{"s":"3.5","m":"CD73","k":"i","x":13.4,"y":57},{"s":"3.5","m":"CD73","k":"i","x":15.4,"y":45},{"s":"3.5","m":"CD73","k":"i","x":17.9,"y":32},{"s":"3.5","m":"CD73","k":"i","x":20.2,"y":22},{"s":"3.5","m":"CD73","k":"i","x":22.2,"y":13},{"s":"3.5","m":"CD73","k":"i","x":24.3,"y":7},{"s":"3.5","m":"CD73","k":"i","x":26.6,"y":2},{"s":"3.5","m":"CD73","k":"i","x":29.1,"y":0},
    {"s":"3.5","m":"CD73","k":"p","x":22.2,"y":0},{"s":"3.5","m":"CD73","k":"p","x":26.3,"y":4},{"s":"3.5","m":"CD73","k":"p","x":31.1,"y":9},{"s":"3.5","m":"CD73","k":"p","x":35.9,"y":17},{"s":"3.5","m":"CD73","k":"p","x":40,"y":30},{"s":"3.5","m":"CD73","k":"p","x":43,"y":45},{"s":"3.5","m":"CD73","k":"p","x":45.4,"y":59},{"s":"3.5","m":"CD73","k":"p","x":47.5,"y":70},{"s":"3.5","m":"CD73","k":"p","x":49,"y":74},{"s":"3.5","m":"CD73","k":"p","x":50.4,"y":69},{"s":"3.5","m":"CD73","k":"p","x":52,"y":56},{"s":"3.5","m":"CD73","k":"p","x":53.9,"y":38},{"s":"3.5","m":"CD73","k":"p","x":56.1,"y":22},{"s":"3.5","m":"CD73","k":"p","x":58.1,"y":10},{"s":"3.5","m":"CD73","k":"p","x":60.2,"y":3},{"s":"3.5","m":"CD73","k":"p","x":61.8,"y":0},
    {"s":"3.5","m":"CD73","k":"g","x":24.3},{"s":"3.5","m":"CD73","k":"t","t":"94,1%"},

    {"s":"3.5","m":"CD90","k":"i","x":1.1,"y":0},{"s":"3.5","m":"CD90","k":"i","x":1.4,"y":94},{"s":"3.5","m":"CD90","k":"i","x":2.5,"y":77},{"s":"3.5","m":"CD90","k":"i","x":3.8,"y":71},{"s":"3.5","m":"CD90","k":"i","x":4.9,"y":73},{"s":"3.5","m":"CD90","k":"i","x":6,"y":64},{"s":"3.5","m":"CD90","k":"i","x":7.4,"y":59},{"s":"3.5","m":"CD90","k":"i","x":8.7,"y":50},{"s":"3.5","m":"CD90","k":"i","x":10.1,"y":38},{"s":"3.5","m":"CD90","k":"i","x":11.5,"y":28},{"s":"3.5","m":"CD90","k":"i","x":12.8,"y":18},{"s":"3.5","m":"CD90","k":"i","x":14.2,"y":11},{"s":"3.5","m":"CD90","k":"i","x":15.7,"y":5},{"s":"3.5","m":"CD90","k":"i","x":17.5,"y":2},{"s":"3.5","m":"CD90","k":"i","x":19.5,"y":0},
    {"s":"3.5","m":"CD90","k":"p","x":14.7,"y":0},{"s":"3.5","m":"CD90","k":"p","x":17.5,"y":5},{"s":"3.5","m":"CD90","k":"p","x":20.9,"y":10},{"s":"3.5","m":"CD90","k":"p","x":23.9,"y":17},{"s":"3.5","m":"CD90","k":"p","x":26.6,"y":26},{"s":"3.5","m":"CD90","k":"p","x":28.8,"y":39},{"s":"3.5","m":"CD90","k":"p","x":30.7,"y":56},{"s":"3.5","m":"CD90","k":"p","x":32.3,"y":66},{"s":"3.5","m":"CD90","k":"p","x":33.7,"y":73},{"s":"3.5","m":"CD90","k":"p","x":34.8,"y":73},{"s":"3.5","m":"CD90","k":"p","x":36.2,"y":64},{"s":"3.5","m":"CD90","k":"p","x":37.9,"y":49},{"s":"3.5","m":"CD90","k":"p","x":40,"y":32},{"s":"3.5","m":"CD90","k":"p","x":42.4,"y":17},{"s":"3.5","m":"CD90","k":"p","x":45.2,"y":6},{"s":"3.5","m":"CD90","k":"p","x":48.2,"y":0},
    {"s":"3.5","m":"CD90","k":"g","x":15.4},{"s":"3.5","m":"CD90","k":"t","t":"94%"},

    {"s":"3.5","m":"CD44","k":"i","x":1.1,"y":0},{"s":"3.5","m":"CD44","k":"i","x":1.4,"y":94},{"s":"3.5","m":"CD44","k":"i","x":2,"y":65},{"s":"3.5","m":"CD44","k":"i","x":3.1,"y":61},{"s":"3.5","m":"CD44","k":"i","x":4.2,"y":63},{"s":"3.5","m":"CD44","k":"i","x":5.3,"y":56},{"s":"3.5","m":"CD44","k":"i","x":7,"y":53},{"s":"3.5","m":"CD44","k":"i","x":8,"y":48},{"s":"3.5","m":"CD44","k":"i","x":9.4,"y":39},{"s":"3.5","m":"CD44","k":"i","x":10.8,"y":30},{"s":"3.5","m":"CD44","k":"i","x":12.1,"y":19},{"s":"3.5","m":"CD44","k":"i","x":13.5,"y":10},{"s":"3.5","m":"CD44","k":"i","x":14.9,"y":3},{"s":"3.5","m":"CD44","k":"i","x":16.8,"y":0},
    {"s":"3.5","m":"CD44","k":"p","x":14.7,"y":0},{"s":"3.5","m":"CD44","k":"p","x":18.1,"y":3},{"s":"3.5","m":"CD44","k":"p","x":23.6,"y":5},{"s":"3.5","m":"CD44","k":"p","x":28.4,"y":8},{"s":"3.5","m":"CD44","k":"p","x":32.5,"y":14},{"s":"3.5","m":"CD44","k":"p","x":35.9,"y":22},{"s":"3.5","m":"CD44","k":"p","x":38.1,"y":34},{"s":"3.5","m":"CD44","k":"p","x":40.1,"y":49},{"s":"3.5","m":"CD44","k":"p","x":42,"y":65},{"s":"3.5","m":"CD44","k":"p","x":43.8,"y":78},{"s":"3.5","m":"CD44","k":"p","x":45.4,"y":72},{"s":"3.5","m":"CD44","k":"p","x":47.5,"y":53},{"s":"3.5","m":"CD44","k":"p","x":49.5,"y":36},{"s":"3.5","m":"CD44","k":"p","x":52.3,"y":18},{"s":"3.5","m":"CD44","k":"p","x":55,"y":6},{"s":"3.5","m":"CD44","k":"p","x":58.4,"y":0},
    {"s":"3.5","m":"CD44","k":"g","x":15.1},{"s":"3.5","m":"CD44","k":"t","t":"97,5%"},

    {"s":"3.5","m":"CD105","k":"i","x":1.1,"y":0},{"s":"3.5","m":"CD105","k":"i","x":1.4,"y":94},{"s":"3.5","m":"CD105","k":"i","x":1.9,"y":64},{"s":"3.5","m":"CD105","k":"i","x":2.7,"y":57},{"s":"3.5","m":"CD105","k":"i","x":4,"y":58},{"s":"3.5","m":"CD105","k":"i","x":5.3,"y":57},{"s":"3.5","m":"CD105","k":"i","x":6.7,"y":55},{"s":"3.5","m":"CD105","k":"i","x":8,"y":52},{"s":"3.5","m":"CD105","k":"i","x":9.7,"y":45},{"s":"3.5","m":"CD105","k":"i","x":11.3,"y":35},{"s":"3.5","m":"CD105","k":"i","x":13.2,"y":24},{"s":"3.5","m":"CD105","k":"i","x":15.1,"y":16},{"s":"3.5","m":"CD105","k":"i","x":17.1,"y":9},{"s":"3.5","m":"CD105","k":"i","x":19.3,"y":3},{"s":"3.5","m":"CD105","k":"i","x":20.9,"y":0},
    {"s":"3.5","m":"CD105","k":"p","x":19.5,"y":0},{"s":"3.5","m":"CD105","k":"p","x":23.6,"y":6},{"s":"3.5","m":"CD105","k":"p","x":27,"y":11},{"s":"3.5","m":"CD105","k":"p","x":30.7,"y":16},{"s":"3.5","m":"CD105","k":"p","x":34.5,"y":23},{"s":"3.5","m":"CD105","k":"p","x":38.6,"y":33},{"s":"3.5","m":"CD105","k":"p","x":42,"y":45},{"s":"3.5","m":"CD105","k":"p","x":44.3,"y":55},{"s":"3.5","m":"CD105","k":"p","x":46.2,"y":61},{"s":"3.5","m":"CD105","k":"p","x":47.9,"y":68},{"s":"3.5","m":"CD105","k":"p","x":49.5,"y":73},{"s":"3.5","m":"CD105","k":"p","x":50.9,"y":75},{"s":"3.5","m":"CD105","k":"p","x":52.5,"y":70},{"s":"3.5","m":"CD105","k":"p","x":54.4,"y":58},{"s":"3.5","m":"CD105","k":"p","x":56.6,"y":45},{"s":"3.5","m":"CD105","k":"p","x":59.1,"y":31},{"s":"3.5","m":"CD105","k":"p","x":61.8,"y":16},{"s":"3.5","m":"CD105","k":"p","x":64.5,"y":6},{"s":"3.5","m":"CD105","k":"p","x":66.6,"y":0},
    {"s":"3.5","m":"CD105","k":"g","x":17.5},{"s":"3.5","m":"CD105","k":"t","t":"95,5%"}
  ]},
  "vconcat": [
    {
      "spacing": 3,
      "hconcat": [
        {
          "title": " ",
          "width": 63, "height": 244,
          "view": {"stroke": null},
          "data": {"values": [{"m": "CD73"}, {"m": "CD90"}, {"m": "CD44"}, {"m": "CD105"}]},
          "mark": {"type": "text", "fontSize": 21, "color": "#333333"},
          "encoding": {
            "y": {"field": "m", "type": "nominal", "sort": ["CD73", "CD90", "CD44", "CD105"], "axis": null, "scale": {"paddingInner": 0, "paddingOuter": 0}},
            "text": {"field": "m"}
          }
        },
        {
          "title": "1.10",
          "transform": [{"filter": "datum.s == '1.10'"}],
          "facet": {"row": {"field": "m", "type": "nominal", "sort": ["CD73", "CD90", "CD44", "CD105"], "header": null}},
          "spacing": {"row": 0},
          "bounds": "flush",
          "resolve": {"axis": {"x": "independent"}},
          "spec": {
            "width": 247, "height": 61,
            "layer": [
              {"transform": [{"filter": "datum.k == 'i'"}], "mark": {"type": "line", "stroke": "#1d2731", "strokeWidth": 1.7},
               "encoding": {
                 "x": {"field": "x", "type": "quantitative", "scale": {"domain": [0, 100], "nice": false, "zero": false},
                       "axis": {"values": [0, 7.53, 11.93, 15.05, 17.47, 19.45, 21.13, 22.58, 23.86, 25, 32.53, 36.93, 40.05, 42.47, 44.45, 46.13, 47.58, 48.86, 50, 57.53, 61.93, 65.05, 67.47, 69.45, 71.13, 72.58, 73.86, 75, 82.53, 86.93, 90.05, 92.47, 94.45, 96.13, 97.58, 98.86, 100],
                                "labels": false, "title": null, "grid": false, "tickSize": -4, "tickColor": "#1d2731", "tickWidth": 1.2, "domainColor": "#1d2731", "domainWidth": 2, "zindex": 1}},
                 "y": {"field": "y", "type": "quantitative", "scale": {"domain": [0, 100], "nice": false}, "axis": null}}},
              {"transform": [{"filter": "datum.k == 'p'"}], "mark": {"type": "area", "fill": "#f0791f", "stroke": "#1d2731", "strokeWidth": 2, "strokeJoin": "round"},
               "encoding": {"x": {"field": "x", "type": "quantitative"}, "y": {"field": "y", "type": "quantitative"}}},
              {"transform": [{"filter": "datum.k == 'g'"}], "mark": {"type": "rule", "color": "#1d2731", "strokeWidth": 1.6},
               "encoding": {"x": {"field": "x", "type": "quantitative"}}},
              {"transform": [{"filter": "datum.k == 't'"}], "mark": {"type": "text", "align": "right", "baseline": "top", "dx": -2, "dy": 3, "fontSize": 13, "color": "#3c3c3c"},
               "encoding": {"x": {"datum": 100}, "y": {"datum": 100}, "text": {"field": "t"}}}
            ]
          }
        },
        {
          "title": "1.22",
          "transform": [{"filter": "datum.s == '1.22'"}],
          "facet": {"row": {"field": "m", "type": "nominal", "sort": ["CD73", "CD90", "CD44", "CD105"], "header": null}},
          "spacing": {"row": 0},
          "bounds": "flush",
          "resolve": {"axis": {"x": "independent"}},
          "spec": {
            "width": 258, "height": 61,
            "layer": [
              {"transform": [{"filter": "datum.k == 'i'"}], "mark": {"type": "line", "stroke": "#1d2731", "strokeWidth": 1.7},
               "encoding": {
                 "x": {"field": "x", "type": "quantitative", "scale": {"domain": [0, 100], "nice": false, "zero": false},
                       "axis": {"values": [0, 7.53, 11.93, 15.05, 17.47, 19.45, 21.13, 22.58, 23.86, 25, 32.53, 36.93, 40.05, 42.47, 44.45, 46.13, 47.58, 48.86, 50, 57.53, 61.93, 65.05, 67.47, 69.45, 71.13, 72.58, 73.86, 75, 82.53, 86.93, 90.05, 92.47, 94.45, 96.13, 97.58, 98.86, 100],
                                "labels": false, "title": null, "grid": false, "tickSize": -4, "tickColor": "#1d2731", "tickWidth": 1.2, "domainColor": "#1d2731", "domainWidth": 2, "zindex": 1}},
                 "y": {"field": "y", "type": "quantitative", "scale": {"domain": [0, 100], "nice": false}, "axis": null}}},
              {"transform": [{"filter": "datum.k == 'p'"}], "mark": {"type": "area", "fill": "#f0791f", "stroke": "#1d2731", "strokeWidth": 2, "strokeJoin": "round"},
               "encoding": {"x": {"field": "x", "type": "quantitative"}, "y": {"field": "y", "type": "quantitative"}}},
              {"transform": [{"filter": "datum.k == 'g'"}], "mark": {"type": "rule", "color": "#1d2731", "strokeWidth": 1.6},
               "encoding": {"x": {"field": "x", "type": "quantitative"}}},
              {"transform": [{"filter": "datum.k == 't'"}], "mark": {"type": "text", "align": "right", "baseline": "top", "dx": -2, "dy": 3, "fontSize": 13, "color": "#3c3c3c"},
               "encoding": {"x": {"datum": 100}, "y": {"datum": 100}, "text": {"field": "t"}}}
            ]
          }
        },
        {
          "title": "1.7",
          "transform": [{"filter": "datum.s == '1.7'"}],
          "facet": {"row": {"field": "m", "type": "nominal", "sort": ["CD73", "CD90", "CD44", "CD105"], "header": null}},
          "spacing": {"row": 0},
          "bounds": "flush",
          "resolve": {"axis": {"x": "independent"}},
          "spec": {
            "width": 245, "height": 61,
            "layer": [
              {"transform": [{"filter": "datum.k == 'i'"}], "mark": {"type": "line", "stroke": "#1d2731", "strokeWidth": 1.7},
               "encoding": {
                 "x": {"field": "x", "type": "quantitative", "scale": {"domain": [0, 100], "nice": false, "zero": false},
                       "axis": {"values": [0, 7.53, 11.93, 15.05, 17.47, 19.45, 21.13, 22.58, 23.86, 25, 32.53, 36.93, 40.05, 42.47, 44.45, 46.13, 47.58, 48.86, 50, 57.53, 61.93, 65.05, 67.47, 69.45, 71.13, 72.58, 73.86, 75, 82.53, 86.93, 90.05, 92.47, 94.45, 96.13, 97.58, 98.86, 100],
                                "labels": false, "title": null, "grid": false, "tickSize": -4, "tickColor": "#1d2731", "tickWidth": 1.2, "domainColor": "#1d2731", "domainWidth": 2, "zindex": 1}},
                 "y": {"field": "y", "type": "quantitative", "scale": {"domain": [0, 100], "nice": false}, "axis": null}}},
              {"transform": [{"filter": "datum.k == 'p'"}], "mark": {"type": "area", "fill": "#f0791f", "stroke": "#1d2731", "strokeWidth": 2, "strokeJoin": "round"},
               "encoding": {"x": {"field": "x", "type": "quantitative"}, "y": {"field": "y", "type": "quantitative"}}},
              {"transform": [{"filter": "datum.k == 'g'"}], "mark": {"type": "rule", "color": "#1d2731", "strokeWidth": 1.6},
               "encoding": {"x": {"field": "x", "type": "quantitative"}}},
              {"transform": [{"filter": "datum.k == 't'"}], "mark": {"type": "text", "align": "right", "baseline": "top", "dx": -2, "dy": 3, "fontSize": 13, "color": "#3c3c3c"},
               "encoding": {"x": {"datum": 100}, "y": {"datum": 100}, "text": {"field": "t"}}}
            ]
          }
        }
      ]
    },
    {
      "spacing": 3,
      "hconcat": [
        {
          "width": 96, "height": 10,
          "view": {"stroke": null},
          "data": {"values": []},
          "mark": {"type": "point", "opacity": 0}
        },
        {
          "title": " ",
          "width": 90, "height": 248,
          "view": {"stroke": null},
          "data": {"values": [{"m": "CD73"}, {"m": "CD90"}, {"m": "CD44"}, {"m": "CD105"}]},
          "mark": {"type": "text", "fontSize": 21, "color": "#333333"},
          "encoding": {
            "y": {"field": "m", "type": "nominal", "sort": ["CD73", "CD90", "CD44", "CD105"], "axis": null, "scale": {"paddingInner": 0, "paddingOuter": 0}},
            "text": {"field": "m"}
          }
        },
        {
          "title": "3.10",
          "transform": [{"filter": "datum.s == '3.10'"}],
          "facet": {"row": {"field": "m", "type": "nominal", "sort": ["CD73", "CD90", "CD44", "CD105"], "header": null}},
          "spacing": {"row": 0},
          "bounds": "flush",
          "resolve": {"axis": {"x": "independent"}},
          "spec": {
            "width": 258, "height": 62,
            "layer": [
              {"transform": [{"filter": "datum.k == 'i'"}], "mark": {"type": "line", "stroke": "#1d2731", "strokeWidth": 1.7},
               "encoding": {
                 "x": {"field": "x", "type": "quantitative", "scale": {"domain": [0, 100], "nice": false, "zero": false},
                       "axis": {"values": [0, 7.53, 11.93, 15.05, 17.47, 19.45, 21.13, 22.58, 23.86, 25, 32.53, 36.93, 40.05, 42.47, 44.45, 46.13, 47.58, 48.86, 50, 57.53, 61.93, 65.05, 67.47, 69.45, 71.13, 72.58, 73.86, 75, 82.53, 86.93, 90.05, 92.47, 94.45, 96.13, 97.58, 98.86, 100],
                                "labels": false, "title": null, "grid": false, "tickSize": -4, "tickColor": "#1d2731", "tickWidth": 1.2, "domainColor": "#1d2731", "domainWidth": 2, "zindex": 1}},
                 "y": {"field": "y", "type": "quantitative", "scale": {"domain": [0, 100], "nice": false}, "axis": null}}},
              {"transform": [{"filter": "datum.k == 'p'"}], "mark": {"type": "area", "fill": "#f9c433", "stroke": "#1d2731", "strokeWidth": 2, "strokeJoin": "round"},
               "encoding": {"x": {"field": "x", "type": "quantitative"}, "y": {"field": "y", "type": "quantitative"}}},
              {"transform": [{"filter": "datum.k == 'g'"}], "mark": {"type": "rule", "color": "#1d2731", "strokeWidth": 1.6},
               "encoding": {"x": {"field": "x", "type": "quantitative"}}},
              {"transform": [{"filter": "datum.k == 't'"}], "mark": {"type": "text", "align": "right", "baseline": "top", "dx": -2, "dy": 3, "fontSize": 13, "color": "#3c3c3c"},
               "encoding": {"x": {"datum": 100}, "y": {"datum": 100}, "text": {"field": "t"}}}
            ]
          }
        },
        {
          "title": "3.5",
          "transform": [{"filter": "datum.s == '3.5'"}],
          "facet": {"row": {"field": "m", "type": "nominal", "sort": ["CD73", "CD90", "CD44", "CD105"], "header": null}},
          "spacing": {"row": 0},
          "bounds": "flush",
          "resolve": {"axis": {"x": "independent"}},
          "spec": {
            "width": 245, "height": 62,
            "layer": [
              {"transform": [{"filter": "datum.k == 'i'"}], "mark": {"type": "line", "stroke": "#1d2731", "strokeWidth": 1.7},
               "encoding": {
                 "x": {"field": "x", "type": "quantitative", "scale": {"domain": [0, 100], "nice": false, "zero": false},
                       "axis": {"values": [0, 7.53, 11.93, 15.05, 17.47, 19.45, 21.13, 22.58, 23.86, 25, 32.53, 36.93, 40.05, 42.47, 44.45, 46.13, 47.58, 48.86, 50, 57.53, 61.93, 65.05, 67.47, 69.45, 71.13, 72.58, 73.86, 75, 82.53, 86.93, 90.05, 92.47, 94.45, 96.13, 97.58, 98.86, 100],
                                "labels": false, "title": null, "grid": false, "tickSize": -4, "tickColor": "#1d2731", "tickWidth": 1.2, "domainColor": "#1d2731", "domainWidth": 2, "zindex": 1}},
                 "y": {"field": "y", "type": "quantitative", "scale": {"domain": [0, 100], "nice": false}, "axis": null}}},
              {"transform": [{"filter": "datum.k == 'p'"}], "mark": {"type": "area", "fill": "#f9c433", "stroke": "#1d2731", "strokeWidth": 2, "strokeJoin": "round"},
               "encoding": {"x": {"field": "x", "type": "quantitative"}, "y": {"field": "y", "type": "quantitative"}}},
              {"transform": [{"filter": "datum.k == 'g'"}], "mark": {"type": "rule", "color": "#1d2731", "strokeWidth": 1.6},
               "encoding": {"x": {"field": "x", "type": "quantitative"}}},
              {"transform": [{"filter": "datum.k == 't'"}], "mark": {"type": "text", "align": "right", "baseline": "top", "dx": -2, "dy": 3, "fontSize": 13, "color": "#3c3c3c"},
               "encoding": {"x": {"datum": 100}, "y": {"datum": 100}, "text": {"field": "t"}}}
            ]
          }
        }
      ]
    }
  ],
  "spacing": 34
}
